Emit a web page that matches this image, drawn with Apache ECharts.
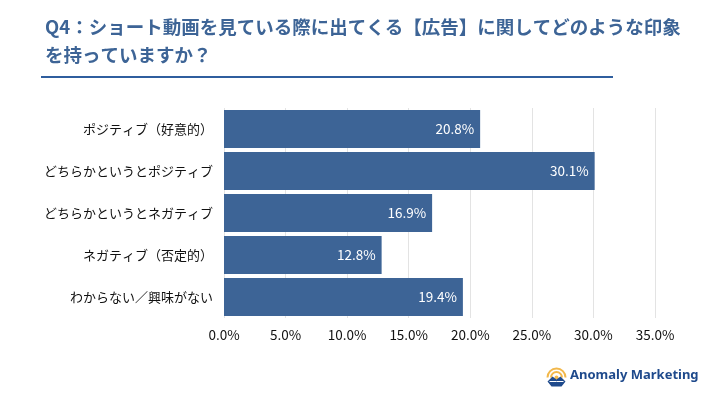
<!DOCTYPE html>
<html><head><meta charset="utf-8">
<script src="https://cdn.jsdelivr.net/npm/echarts@6/dist/echarts.min.js"></script>
<style>html,body{margin:0;padding:0;background:#fff}#c{width:720px;height:405px}</style>
</head><body><div id="c"></div>
<script>
const titleLines = ['Q4：ショート動画を見ている際に出てくる【広告】に関してどのような印象', 'を持っていますか？'];
const categories = ['ポジティブ（好意的）', 'どちらかというとポジティブ', 'どちらかというとネガティブ', 'ネガティブ（否定的）', 'わからない／興味がない'];
const values = [20.8, 30.1, 16.9, 12.8, 19.4];
const xTicks = {min: 0, max: 35, interval: 5};
const brand = 'Anomaly Marketing';

const font = '"Noto Sans CJK JP", "Noto Sans", sans-serif';
const chart = echarts.init(document.getElementById('c'));
chart.setOption({
  backgroundColor: '#ffffff',
  title: {
    text: titleLines.join('\n'),
    left: 40, top: 8,
    textStyle: {fontFamily: font, fontSize: 18.5, fontWeight: 'bold', color: '#3d6496', lineHeight: 28}
  },
  grid: {left: 224, right: 65, top: 108, bottom: 87},
  xAxis: {
    type: 'value', min: xTicks.min, max: xTicks.max, interval: xTicks.interval,
    axisLine: {show: false}, axisTick: {show: false},
    splitLine: {lineStyle: {color: '#e3e3e3', width: 1}},
    axisLabel: {formatter: v => v.toFixed(1) + '%', fontFamily: font, fontSize: 13.5, color: '#111', margin: 10}
  },
  yAxis: {
    type: 'category', data: categories, inverse: true,
    axisLine: {show: false}, axisTick: {show: false},
    axisLabel: {fontFamily: font, fontSize: 13, color: '#111', margin: 11}
  },
  series: [{
    type: 'bar', data: values, barCategoryGap: '10%',
    itemStyle: {color: '#3d6496'},
    label: {show: true, position: 'insideRight', formatter: p => p.value.toFixed(1) + '%',
      color: '#fff', fontFamily: font, fontSize: 13.5, offset: [-1, 0]}
  }],
  graphic: [
    {type: 'rect', shape: {x: 41, y: 76, width: 572, height: 2}, style: {fill: '#2f5e9e'}},
    {type: 'group', left: 545, top: 366, children: [
      {type: 'arc', shape: {cx: 10, cy: 11, r: 9, startAngle: Math.PI, endAngle: 2*Math.PI}, style: {stroke: '#f2b84b', lineWidth: 2, fill: 'none'}},
      {type: 'arc', shape: {cx: 10, cy: 11, r: 5.5, startAngle: Math.PI, endAngle: 2*Math.PI}, style: {stroke: '#f2b84b', lineWidth: 2, fill: 'none'}},
      {type: 'circle', shape: {cx: 10, cy: 11, r: 2}, style: {fill: '#f2b84b'}},
      {type: 'polygon', shape: {points: [[1,15],[6,10],[10,13],[14,10],[19,15],[15,20],[5,20]]}, style: {fill: '#1f4a8c'}},
      {type: 'polyline', shape: {points: [[3,15],[10,15],[17,15]]}, style: {stroke: '#fff', lineWidth: 1}}
    ]},
    {type: 'text', left: 570, top: 369, style: {text: brand, fontFamily: '"Noto Sans", sans-serif', fontSize: 13, fontWeight: 'bold', fill: '#1f4a8c'}}
  ]
});
</script></body></html>
